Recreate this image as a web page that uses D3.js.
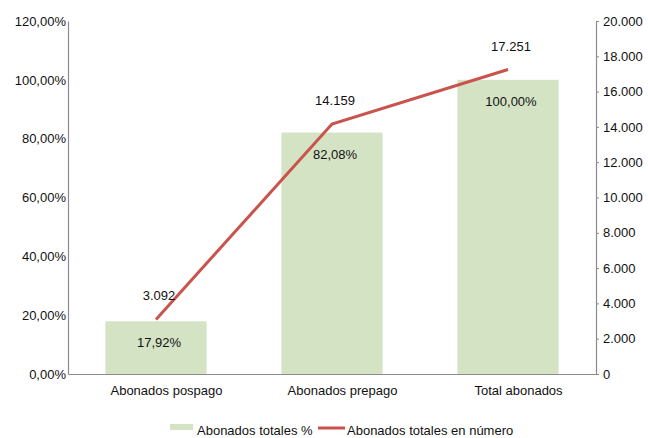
<!DOCTYPE html>
<html>
<head>
<meta charset="utf-8">
<script src="https://cdn.jsdelivr.net/npm/d3@7"></script>
<style>
  html, body { margin: 0; padding: 0; background: #fff; }
  svg { display: block; font-family: "Liberation Sans", Arial, Helvetica, sans-serif; }
</style>
</head>
<body>
<svg id="chart" width="648" height="438"></svg>
<script>
// Subscriber categories and the two series plotted against them
const categories = ["Abonados pospago", "Abonados prepago", "Total abonados"];
const sharePct = [17.92, 82.08, 100.00];          // bars, left axis (%)
const subscribers = [3092, 14159, 17251];          // line, right axis (count)
const leftTicks = [0, 20, 40, 60, 80, 100, 120];
const rightTicks = [0, 2000, 4000, 6000, 8000, 10000, 12000, 14000, 16000, 18000, 20000];
const legendLabels = ["Abonados totales %", "Abonados totales en número"];

const barColor = "#d5e3c5";
const lineColor = "#c9534d";
const axisColor = "#8c8c8c";
const fs = 13;

const svg = d3.select("#chart");
const m = { left: 68, right: 52, top: 21, bottom: 64 };
const W = 648, H = 438;
const plotW = W - m.left - m.right;
const plotH = H - m.top - m.bottom;

const g = svg.append("g").attr("transform", `translate(${m.left},${m.top})`);

const x = d3.scaleBand().domain(categories).range([0, plotW]).paddingInner(0.425).paddingOuter(0.2125);
const xc = d3.scalePoint().domain(categories).range([0, plotW]).padding(0.5);
const yL = d3.scaleLinear().domain([0, 120]).range([plotH, 0]);
const yR = d3.scaleLinear().domain([0, 20000]).range([plotH, 0]);

const fmtPct = v => d3.format(".2f")(v).replace(".", ",") + "%";
const fmtNum = v => d3.format(",")(v).replace(/,/g, ".");

// Bars
g.selectAll("rect.bar").data(categories).join("rect")
  .attr("class", "bar")
  .attr("x", d => x(d))
  .attr("width", x.bandwidth())
  .attr("y", (d, i) => yL(sharePct[i]))
  .attr("height", (d, i) => plotH - yL(sharePct[i]))
  .attr("fill", barColor);

// Left axis (no tick marks)
const axL = g.append("g").call(d3.axisLeft(yL).tickValues(leftTicks).tickSize(0).tickPadding(2).tickFormat(fmtPct));
axL.select(".domain").attr("stroke", axisColor).attr("stroke-width", 1.2);
axL.selectAll("text").attr("font-size", fs).attr("fill", "#111");

// Right axis
const axR = g.append("g").attr("transform", `translate(${plotW},0)`)
  .call(d3.axisRight(yR).tickValues(rightTicks).tickSize(3).tickPadding(4).tickFormat(fmtNum));
axR.select(".domain").attr("stroke", axisColor).attr("stroke-width", 1.2);
axR.selectAll("line").attr("stroke", axisColor);
axR.selectAll("text").attr("font-size", fs).attr("fill", "#111");

// Bottom axis
const axB = g.append("g").attr("transform", `translate(0,${plotH})`)
  .call(d3.axisBottom(xc).tickSize(0).tickPadding(12));
axB.select(".domain").attr("stroke", axisColor).attr("stroke-width", 1.2);
axB.selectAll("text").attr("font-size", fs).attr("fill", "#111").attr("dx", 10);

// Line
const line = d3.line().x((d, i) => xc(categories[i])).y(d => yR(d));
g.append("path").datum(subscribers)
  .attr("d", line)
  .attr("fill", "none")
  .attr("stroke", lineColor)
  .attr("stroke-width", 3);

// Bar value labels
g.selectAll("text.pct").data(categories).join("text")
  .attr("class", "pct")
  .attr("x", d => xc(d) + 3)
  .attr("y", (d, i) => yL(sharePct[i]) + 26)
  .attr("text-anchor", "middle")
  .attr("font-size", fs)
  .attr("fill", "#111")
  .text((d, i) => fmtPct(sharePct[i]));

// Line value labels
g.selectAll("text.num").data(categories).join("text")
  .attr("class", "num")
  .attr("x", d => xc(d) + 3)
  .attr("y", (d, i) => yR(subscribers[i]) - 19)
  .attr("text-anchor", "middle")
  .attr("font-size", fs)
  .attr("fill", "#111")
  .text((d, i) => fmtNum(subscribers[i]));

// Legend
const lg = svg.append("g").attr("transform", "translate(170,0)");
lg.append("rect").attr("x", 0).attr("y", 424).attr("width", 23).attr("height", 6).attr("fill", barColor);
lg.append("text").attr("x", 27).attr("y", 435).attr("font-size", fs).attr("fill", "#111").text(legendLabels[0]);
lg.append("line").attr("x1", 148).attr("x2", 175).attr("y1", 428).attr("y2", 428)
  .attr("stroke", lineColor).attr("stroke-width", 3);
lg.append("text").attr("x", 177).attr("y", 435).attr("font-size", fs).attr("fill", "#111").text(legendLabels[1]);
</script>
</body>
</html>
